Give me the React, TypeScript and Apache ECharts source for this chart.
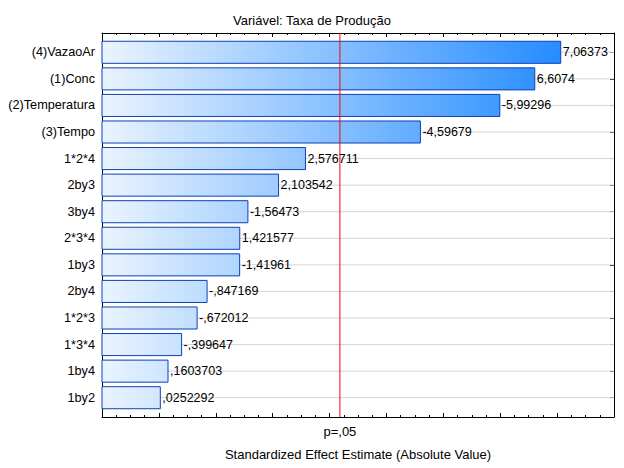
import React, { useEffect, useRef } from "react";
import * as echarts from "echarts";

const titleText = "Variável: Taxa de Produção";
const xAxisName = "Standardized Effect Estimate (Absolute Value)";
const categories = [
  "(4)VazaoAr",
  "(1)Conc",
  "(2)Temperatura",
  "(3)Tempo",
  "1*2*4",
  "2by3",
  "3by4",
  "2*3*4",
  "1by3",
  "2by4",
  "1*2*3",
  "1*3*4",
  "1by4",
  "1by2",
];
const effects = [
  7.06373, 6.6074, -5.99296, -4.59679, 2.576711, 2.103542, -1.56473, 1.421577,
  -1.41961, -0.847169, -0.672012, -0.399647, 0.1603703, 0.0252292,
];
const criticalT = 3.182;
const criticalLabel = "p=,05";
const xMin = -1;
const xMax = 8;
const xInterval = 1;
const rowPad = 0.726;

const FONT = "'Liberation Sans', Arial, sans-serif";

function fmt(v: number): string {
  return String(v).replace(".", ",").replace(/^(-?)0,/, "$1,");
}

export default function App() {
  const ref = useRef<HTMLDivElement>(null);
  useEffect(() => {
    if (!ref.current) return;
    const chart = echarts.init(ref.current, undefined, { renderer: "svg" });
    const idxs = categories.map((_, i) => i);
    const barData = effects.map((v, i) => [Math.abs(v), i, v]);
    const xCommon = {
      type: "value" as const,
      min: xMin,
      max: xMax,
      interval: xInterval,
      axisLine: { show: true, onZero: false, lineStyle: { color: "#000", width: 1 } },
      axisTick: { show: true, inside: true, length: 4, lineStyle: { color: "#000" } },
      minorTick: { show: true, splitNumber: 4, length: 2, lineStyle: { color: "#000" } },
      splitLine: { show: false },
    };
    const yCommon = {
      type: "value" as const,
      min: -rowPad,
      max: categories.length - 1 + rowPad,
      inverse: true,
      axisLine: { show: true, onZero: false, lineStyle: { color: "#000", width: 1 } },
      axisTick: {
        show: true,
        inside: true,
        customValues: idxs,
        length: 4,
        lineStyle: { color: "#000" },
      },
      splitLine: { show: false },
    };
    chart.setOption({
      animation: false,
      backgroundColor: "#fff",
      textStyle: { fontFamily: FONT },
      title: {
        text: titleText,
        left: "center",
        top: 9,
        textStyle: { fontSize: 13, fontWeight: "normal", color: "#000", fontFamily: FONT },
      },
      grid: { left: 102, right: 10, top: 33, bottom: 51, containLabel: false },
      xAxis: [
        {
          ...xCommon,
          position: "bottom",
          name: xAxisName,
          nameLocation: "middle",
          nameGap: 31,
          nameTextStyle: { fontSize: 13, color: "#000", fontFamily: FONT },
          axisLabel: {
            show: true,
            customValues: [criticalT],
            formatter: () => criticalLabel,
            margin: 8,
            fontSize: 13,
            color: "#000",
            fontFamily: FONT,
          },
        },
        {
          ...xCommon,
          position: "top",
          axisLabel: { show: false },
        },
      ],
      yAxis: [
        {
          ...yCommon,
          position: "left",
          axisLabel: {
            show: true,
            customValues: idxs,
            formatter: (v: number) => categories[Math.round(v)] ?? "",
            fontSize: 12.7,
            color: "#000",
            margin: 7,
            fontFamily: FONT,
          },
        },
        {
          ...yCommon,
          position: "right",
          axisLabel: { show: false },
        },
      ],
      series: [
        {
          type: "custom",
          name: "grid",
          xAxisIndex: 0,
          yAxisIndex: 0,
          z: 1,
          silent: true,
          data: barData,
          encode: { x: 0, y: 1 },
          renderItem: (params: any, api: any) => {
            const idx = api.value(1);
            const a = api.coord([xMin, idx]);
            const b = api.coord([xMax, idx]);
            return {
              type: "line",
              shape: { x1: a[0], y1: a[1], x2: b[0], y2: b[1] },
              style: { stroke: "#d4d4d4", lineWidth: 1 },
            };
          },
        },
        {
          type: "custom",
          name: "effects",
          xAxisIndex: 0,
          yAxisIndex: 0,
          z: 2,
          data: barData,
          encode: { x: 0, y: 1 },
          renderItem: (params: any, api: any) => {
            const v = api.value(0);
            const idx = api.value(1);
            const start = api.coord([xMin, idx]);
            const end = api.coord([v, idx]);
            const h = Math.abs(api.size([0, 0.83])[1]);
            const left = api.coord([xMin, 0])[0];
            const right = api.coord([xMax, 0])[0];
            const grad = new echarts.graphic.LinearGradient(
              left,
              0,
              right,
              0,
              [
                { offset: 0, color: "#eaf4ff" },
                { offset: 1, color: "#0f80ff" },
              ],
              true
            );
            return {
              type: "group",
              children: [
                {
                  type: "rect",
                  shape: { x: start[0], y: start[1] - h / 2, width: end[0] - start[0], height: h },
                  style: { fill: grad, stroke: "#0b40b8", lineWidth: 1 },
                },
                {
                  type: "text",
                  style: {
                    x: end[0] + 2,
                    y: end[1],
                    text: fmt(effects[params.dataIndex]),
                    align: "left",
                    verticalAlign: "middle",
                    fill: "#000",
                    font: `12.5px ${FONT}`,
                  },
                },
              ],
            };
          },
        },
        {
          type: "custom",
          name: "critical",
          xAxisIndex: 0,
          yAxisIndex: 0,
          z: 5,
          silent: true,
          data: [[criticalT, 0]],
          encode: { x: 0, y: 1 },
          renderItem: (params: any, api: any) => {
            const x = api.coord([api.value(0), 0])[0];
            const cs = params.coordSys;
            return {
              type: "line",
              shape: { x1: x, y1: cs.y, x2: x, y2: cs.y + cs.height },
              style: { stroke: "#ff0000", lineWidth: 1 },
            };
          },
        },
      ],
    });
    return () => chart.dispose();
  }, []);
  return (
    <div
      ref={ref}
      style={{ position: "fixed", left: 0, top: 0, width: 624, height: 468 }}
    />
  );
}
